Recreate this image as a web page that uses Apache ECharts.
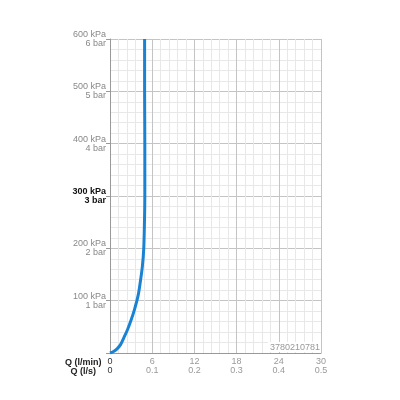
<!DOCTYPE html>
<html>
<head>
<meta charset="utf-8">
<script src="https://cdn.jsdelivr.net/npm/echarts@6/dist/echarts.min.js"></script>
<style>
  html, body { margin: 0; padding: 0; background: #fff; }
  #chart { width: 400px; height: 400px; }
</style>
</head>
<body>
<div id="chart"></div>
<script>
// Flow / pressure curve: [Q l/min, kPa]
const flowCurve = [
  [0, 0], [0.5, 3], [1, 8], [1.5, 16], [2, 30], [2.5, 45], [3, 63],
  [3.5, 84], [4, 110], [4.3, 135], [4.6, 165], [4.8, 200], [4.9, 250],
  [4.95, 300], [4.95, 400], [4.92, 500], [4.92, 600]
];

// Tick labels
const flowTicks = [0, 6, 12, 18, 24, 30];
const flowLsLabels = ['0', '0.1', '0.2', '0.3', '0.4', '0.5'];
const kpaTicks = [0, 100, 200, 300, 400, 500, 600];
const kpaLabels = ['', '100 kPa', '200 kPa', '300 kPa', '400 kPa', '500 kPa', '600 kPa'];
const barLabels = ['', '1 bar', '2 bar', '3 bar', '4 bar', '5 bar', '6 bar'];

const chart = echarts.init(document.getElementById('chart'));

chart.setOption({
  animation: false,
  textStyle: { fontFamily: 'Liberation Sans, Arial, sans-serif' },
  grid: { left: 110, right: 79, top: 39, bottom: 47 },
  xAxis: {
    type: 'value',
    min: 0,
    max: 30,
    interval: 6,
    name: 'Q (l/min)\nQ (l/s)',
    nameLocation: 'start',
    nameGap: 22,
    nameTextStyle: {
      color: '#222',
      fontWeight: 'bold',
      fontSize: 9,
      lineHeight: 9,
      align: 'center',
      verticalAlign: 'top',
      padding: [5, 0, 0, 0]
    },
    axisLine: { show: true, lineStyle: { color: '#999', width: 1 } },
    axisTick: { show: false },
    axisLabel: {
      margin: 4,
      lineHeight: 9,
      formatter: function (v) {
        const i = flowTicks.indexOf(v);
        if (i < 0) return '';
        const st = v === 0 ? 'z' : 'a';
        return '{' + st + '|' + flowTicks[i] + '}\n{' + st + '|' + flowLsLabels[i] + '}';
      },
      rich: {
        a: { color: '#999', fontSize: 9, lineHeight: 9 },
        z: { color: '#333', fontSize: 9, lineHeight: 9 }
      }
    },
    splitLine: { show: true, lineStyle: { color: '#c4c4c4', width: 1 } },
    minorTick: { show: false, splitNumber: 5 },
    minorSplitLine: { show: true, lineStyle: { color: '#e8e8e8', width: 1 } }
  },
  yAxis: {
    type: 'value',
    min: 0,
    max: 600,
    interval: 100,
    axisLine: { show: true, lineStyle: { color: '#999', width: 1 } },
    axisTick: { show: true, length: 4, lineStyle: { color: '#999' } },
    axisLabel: {
      margin: 4,
      align: 'right',
      formatter: function (v) {
        const i = kpaTicks.indexOf(v);
        if (i <= 0) return '';
        const st = v === 300 ? 'b' : 'a';
        return '{' + st + '|' + kpaLabels[i] + '}\n{' + st + '|' + barLabels[i] + '}';
      },
      rich: {
        a: { color: '#888', fontSize: 9, lineHeight: 9, align: 'right' },
        b: { color: '#111', fontSize: 9, lineHeight: 9, fontWeight: 'bold', align: 'right' }
      }
    },
    splitLine: { show: true, lineStyle: { color: '#c4c4c4', width: 1 } },
    minorTick: { show: false, splitNumber: 5 },
    minorSplitLine: { show: true, lineStyle: { color: '#e8e8e8', width: 1 } }
  },
  series: [{
    type: 'line',
    data: flowCurve,
    smooth: 0.3,
    showSymbol: false,
    lineStyle: { color: '#1a82d2', width: 3 },
    z: 3
  }],
  graphic: [{
    type: 'text',
    right: 79,
    bottom: 48,
    z: 10,
    style: {
      text: '3780210781',
      fill: '#999',
      font: '9px Liberation Sans, Arial, sans-serif',
      backgroundColor: '#fff',
      padding: [1, 1, 0, 2]
    }
  }]
});
</script>
</body>
</html>
